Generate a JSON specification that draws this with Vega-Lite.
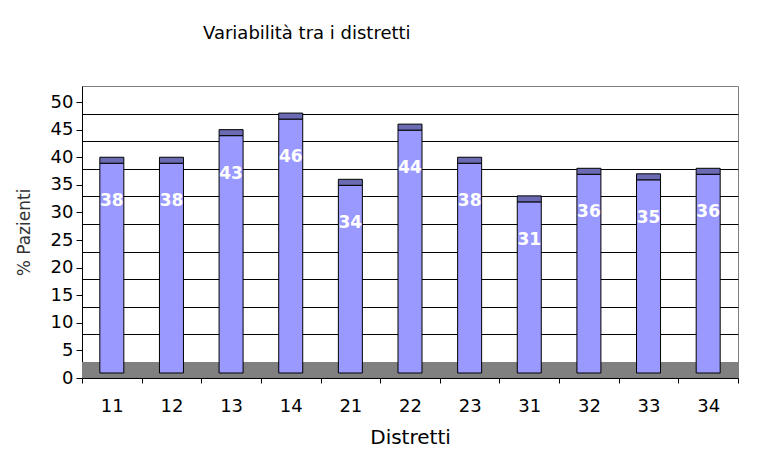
{
  "$schema": "https://vega.github.io/schema/vega-lite/v6.json",
  "width": 656,
  "height": 292,
  "autosize": {"type": "none"},
  "padding": {"left": 82, "top": 86, "right": 19, "bottom": 90},
  "background": "white",
  "title": {
    "text": "Variabilità tra i distretti",
    "anchor": "start",
    "frame": "group",
    "dx": 121,
    "baseline": "alphabetic",
    "offset": 29,
    "font": "DejaVu Sans",
    "fontSize": 18,
    "fontWeight": "normal",
    "color": "black"
  },
  "data": {
    "values": [
      {"distretto": "11", "pazienti": 38},
      {"distretto": "12", "pazienti": 38},
      {"distretto": "13", "pazienti": 43},
      {"distretto": "14", "pazienti": 46},
      {"distretto": "21", "pazienti": 34},
      {"distretto": "22", "pazienti": 44},
      {"distretto": "23", "pazienti": 38},
      {"distretto": "31", "pazienti": 31},
      {"distretto": "32", "pazienti": 36},
      {"distretto": "33", "pazienti": 35},
      {"distretto": "34", "pazienti": 36}
    ]
  },
  "resolve": {"scale": {"y": "independent"}},
  "layer": [
    {
      "data": {"values": [{}]},
      "mark": {"type": "rect", "fill": "#808080"},
      "encoding": {
        "y": {
          "datum": -2.9,
          "type": "quantitative",
          "scale": {"domain": [-2.9, 50], "nice": false, "zero": false},
          "axis": {
            "orient": "right",
            "values": [5, 10, 15, 20, 25, 30, 35, 40, 45],
            "grid": true,
            "gridColor": "black",
            "gridWidth": 1,
            "gridOpacity": 1,
            "labels": false,
            "ticks": false,
            "domain": false,
            "title": null
          }
        },
        "y2": {"datum": 0}
      }
    },
    {
      "encoding": {
        "x": {
          "field": "distretto",
          "type": "nominal",
          "sort": null,
          "scale": {"paddingInner": 0, "paddingOuter": 0},
          "axis": {
            "title": "Distretti",
            "labelAngle": 0,
            "tickBand": "extent",
            "tickSize": 5,
            "tickColor": "black",
            "domainColor": "black",
            "labelFont": "DejaVu Sans",
            "labelFontSize": 18,
            "labelColor": "black",
            "labelPadding": 14,
            "titleFont": "DejaVu Sans",
            "titleFontSize": 20,
            "titleFontWeight": "normal",
            "titleColor": "black",
            "titlePadding": 12
          }
        },
        "y": {
          "field": "pazienti",
          "type": "quantitative",
          "scale": {"domain": [0, 52.9], "nice": false},
          "axis": {
            "orient": "left",
            "values": [0, 5, 10, 15, 20, 25, 30, 35, 40, 45, 50],
            "grid": false,
            "tickSize": 6,
            "tickColor": "black",
            "domainColor": "black",
            "labelFont": "DejaVu Sans",
            "labelFontSize": 18,
            "labelColor": "black",
            "labelPadding": 3,
            "title": "% Pazienti",
            "titleFont": "DejaVu Sans",
            "titleFontSize": 17,
            "titleFontWeight": "normal",
            "titleColor": "#333333",
            "titlePadding": 17
          }
        }
      },
      "layer": [
        {
          "mark": {"type": "bar", "width": 24, "fill": "#9999ff", "stroke": "black", "strokeWidth": 1, "yOffset": -5}
        },
        {
          "mark": {"type": "tick", "orient": "horizontal", "size": 24, "thickness": 6, "fill": "#6b6bb3", "stroke": "black", "strokeWidth": 1, "opacity": 1, "yOffset": -8}
        },
        {
          "mark": {"type": "text", "color": "white", "font": "DejaVu Sans", "fontSize": 17, "fontWeight": "bold", "baseline": "middle", "align": "center", "dy": 33},
          "encoding": {"text": {"field": "pazienti", "type": "quantitative"}}
        }
      ]
    }
  ],
  "config": {
    "view": {"stroke": "#808080", "strokeWidth": 1},
    "axis": {"domainWidth": 1, "tickWidth": 1}
  }
}
